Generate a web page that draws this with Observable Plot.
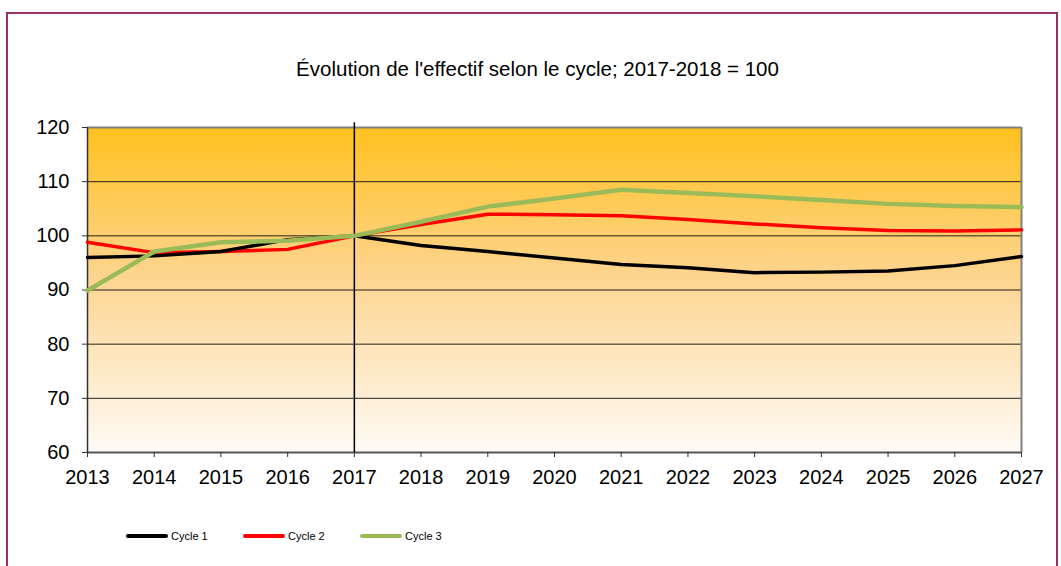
<!DOCTYPE html>
<html>
<head>
<meta charset="utf-8">
<script src="https://cdn.jsdelivr.net/npm/d3@7"></script>
<script src="https://cdn.jsdelivr.net/npm/@observablehq/plot@0.6"></script>
<style>
  html, body { margin: 0; padding: 0; background: #fff; }
  body { width: 1061px; height: 566px; overflow: hidden; position: relative; font-family: "Liberation Sans", Arial, sans-serif; }
  #frame { position: absolute; left: 6px; top: 12px; width: 1052px; height: 600px; border: 2px solid #993366; box-sizing: border-box; }
  #title { position: absolute; left: 0; top: 0; width: 1061px; height: 100px; }
  #title div { position: absolute; left: 0; width: 1075px; top: 57px; text-align: center; font-size: 20.5px; color: #000; white-space: nowrap; }
  #chart { position: absolute; left: 0; top: 100px; }
  #legend { position: absolute; left: 0; top: 500px; width: 1061px; height: 66px; }
  .item { position: absolute; top: 30px; font-size: 11px; display: flex; align-items: center; }
  .swatch { display: inline-block; width: 42px; height: 4px; border-radius: 2px; margin-right: 3px; }
</style>
</head>
<body>
<div id="frame"></div>
<div id="title"><div>Évolution de l'effectif selon le cycle; 2017-2018 = 100</div></div>
<div id="chart"></div>
<div id="legend"></div>
<script>
const years = [2013,2014,2015,2016,2017,2018,2019,2020,2021,2022,2023,2024,2025,2026,2027];
const cycle1 = [96.0,96.3,97.1,99.3,100,98.2,97.1,95.9,94.7,94.1,93.2,93.3,93.5,94.5,96.2];
const cycle2 = [98.8,96.9,97.1,97.5,100,102.1,104.0,103.9,103.7,103.0,102.2,101.5,101.0,100.9,101.1];
const cycle3 = [89.9,97.1,98.8,99.1,100,102.6,105.4,106.9,108.5,107.9,107.3,106.6,105.9,105.5,105.3];
const seriesNames = ["Cycle 1","Cycle 2","Cycle 3"];
const seriesColors = ["#000000","#FF0000","#9BBB59"];
const yTicks = [60,70,80,90,100,110,120];
const refYear = 2017;

const toRows = (vals) => years.map((y,i) => ({year: y, value: vals[i]}));
const d1 = toRows(cycle1), d2 = toRows(cycle2), d3r = toRows(cycle3);

const chart = Plot.plot({
  width: 1061,
  height: 400,
  marginLeft: 87,
  marginRight: 40,
  marginTop: 27,
  marginBottom: 48,
  style: { fontFamily: "'Liberation Sans', Arial, sans-serif", fontSize: "20px", color: "#000", background: "transparent", overflow: "visible" },
  x: { domain: [years[0], years[years.length-1]], label: null },
  y: { domain: [yTicks[0], yTicks[yTicks.length-1]], label: null },
  marks: [
    Plot.frame({ fill: "url(#bggrad)", stroke: null }),
    Plot.gridY(yTicks.slice(1, -1), { stroke: "#000", strokeOpacity: 0.85, strokeWidth: 1 }),
    Plot.ruleY([yTicks[yTicks.length-1]], { stroke: "#808080", strokeWidth: 2 }),
    Plot.ruleX([years[years.length-1]], { stroke: "#808080", strokeWidth: 2 }),
    Plot.ruleY([yTicks[0]], { stroke: "#555", strokeWidth: 2 }),
    Plot.ruleX([years[0]], { stroke: "#333", strokeWidth: 1.5 }),
    Plot.axisX(years, { tickSize: 5, tickPadding: 12, tickFormat: d => String(d), fontSize: 20, label: null, stroke: "#333" }),
    Plot.axisY(yTicks, { tickSize: 5, tickPadding: 13, fontSize: 20, label: null, stroke: "#333" }),
    Plot.ruleX([refYear], { y1: yTicks[0], y2: yTicks[yTicks.length-1] + 0.9, stroke: "#000", strokeWidth: 1.5 }),
    Plot.line(d2, { x: "year", y: "value", stroke: seriesColors[1], strokeWidth: 3.5 }),
    Plot.line(d1, { x: "year", y: "value", stroke: seriesColors[0], strokeWidth: 3.5 }),
    Plot.line(d3r, { x: "year", y: "value", stroke: seriesColors[2], strokeWidth: 4.5 })
  ]
});

// gradient definition for the plot background
const ns = "http://www.w3.org/2000/svg";
const defs = document.createElementNS(ns, "defs");
const grad = document.createElementNS(ns, "linearGradient");
grad.setAttribute("id", "bggrad");
grad.setAttribute("x1", "0"); grad.setAttribute("y1", "0");
grad.setAttribute("x2", "0"); grad.setAttribute("y2", "1");
[["0", "#FFC11E"], ["0.45", "#FDD48E"], ["1", "#FFFBF6"]].forEach(([o, c]) => {
  const s = document.createElementNS(ns, "stop");
  s.setAttribute("offset", o);
  s.setAttribute("stop-color", c);
  grad.appendChild(s);
});
defs.appendChild(grad);
chart.insertBefore(defs, chart.firstChild);
document.getElementById("chart").appendChild(chart);

// legend
const legend = document.getElementById("legend");
const lefts = [126, 243, 360];
seriesNames.forEach((name, i) => {
  const it = document.createElement("div");
  it.className = "item";
  it.style.left = lefts[i] + "px";
  const sw = document.createElement("span");
  sw.className = "swatch";
  sw.style.background = seriesColors[i];
  it.appendChild(sw);
  it.appendChild(document.createTextNode(name));
  legend.appendChild(it);
});
</script>
</body>
</html>
